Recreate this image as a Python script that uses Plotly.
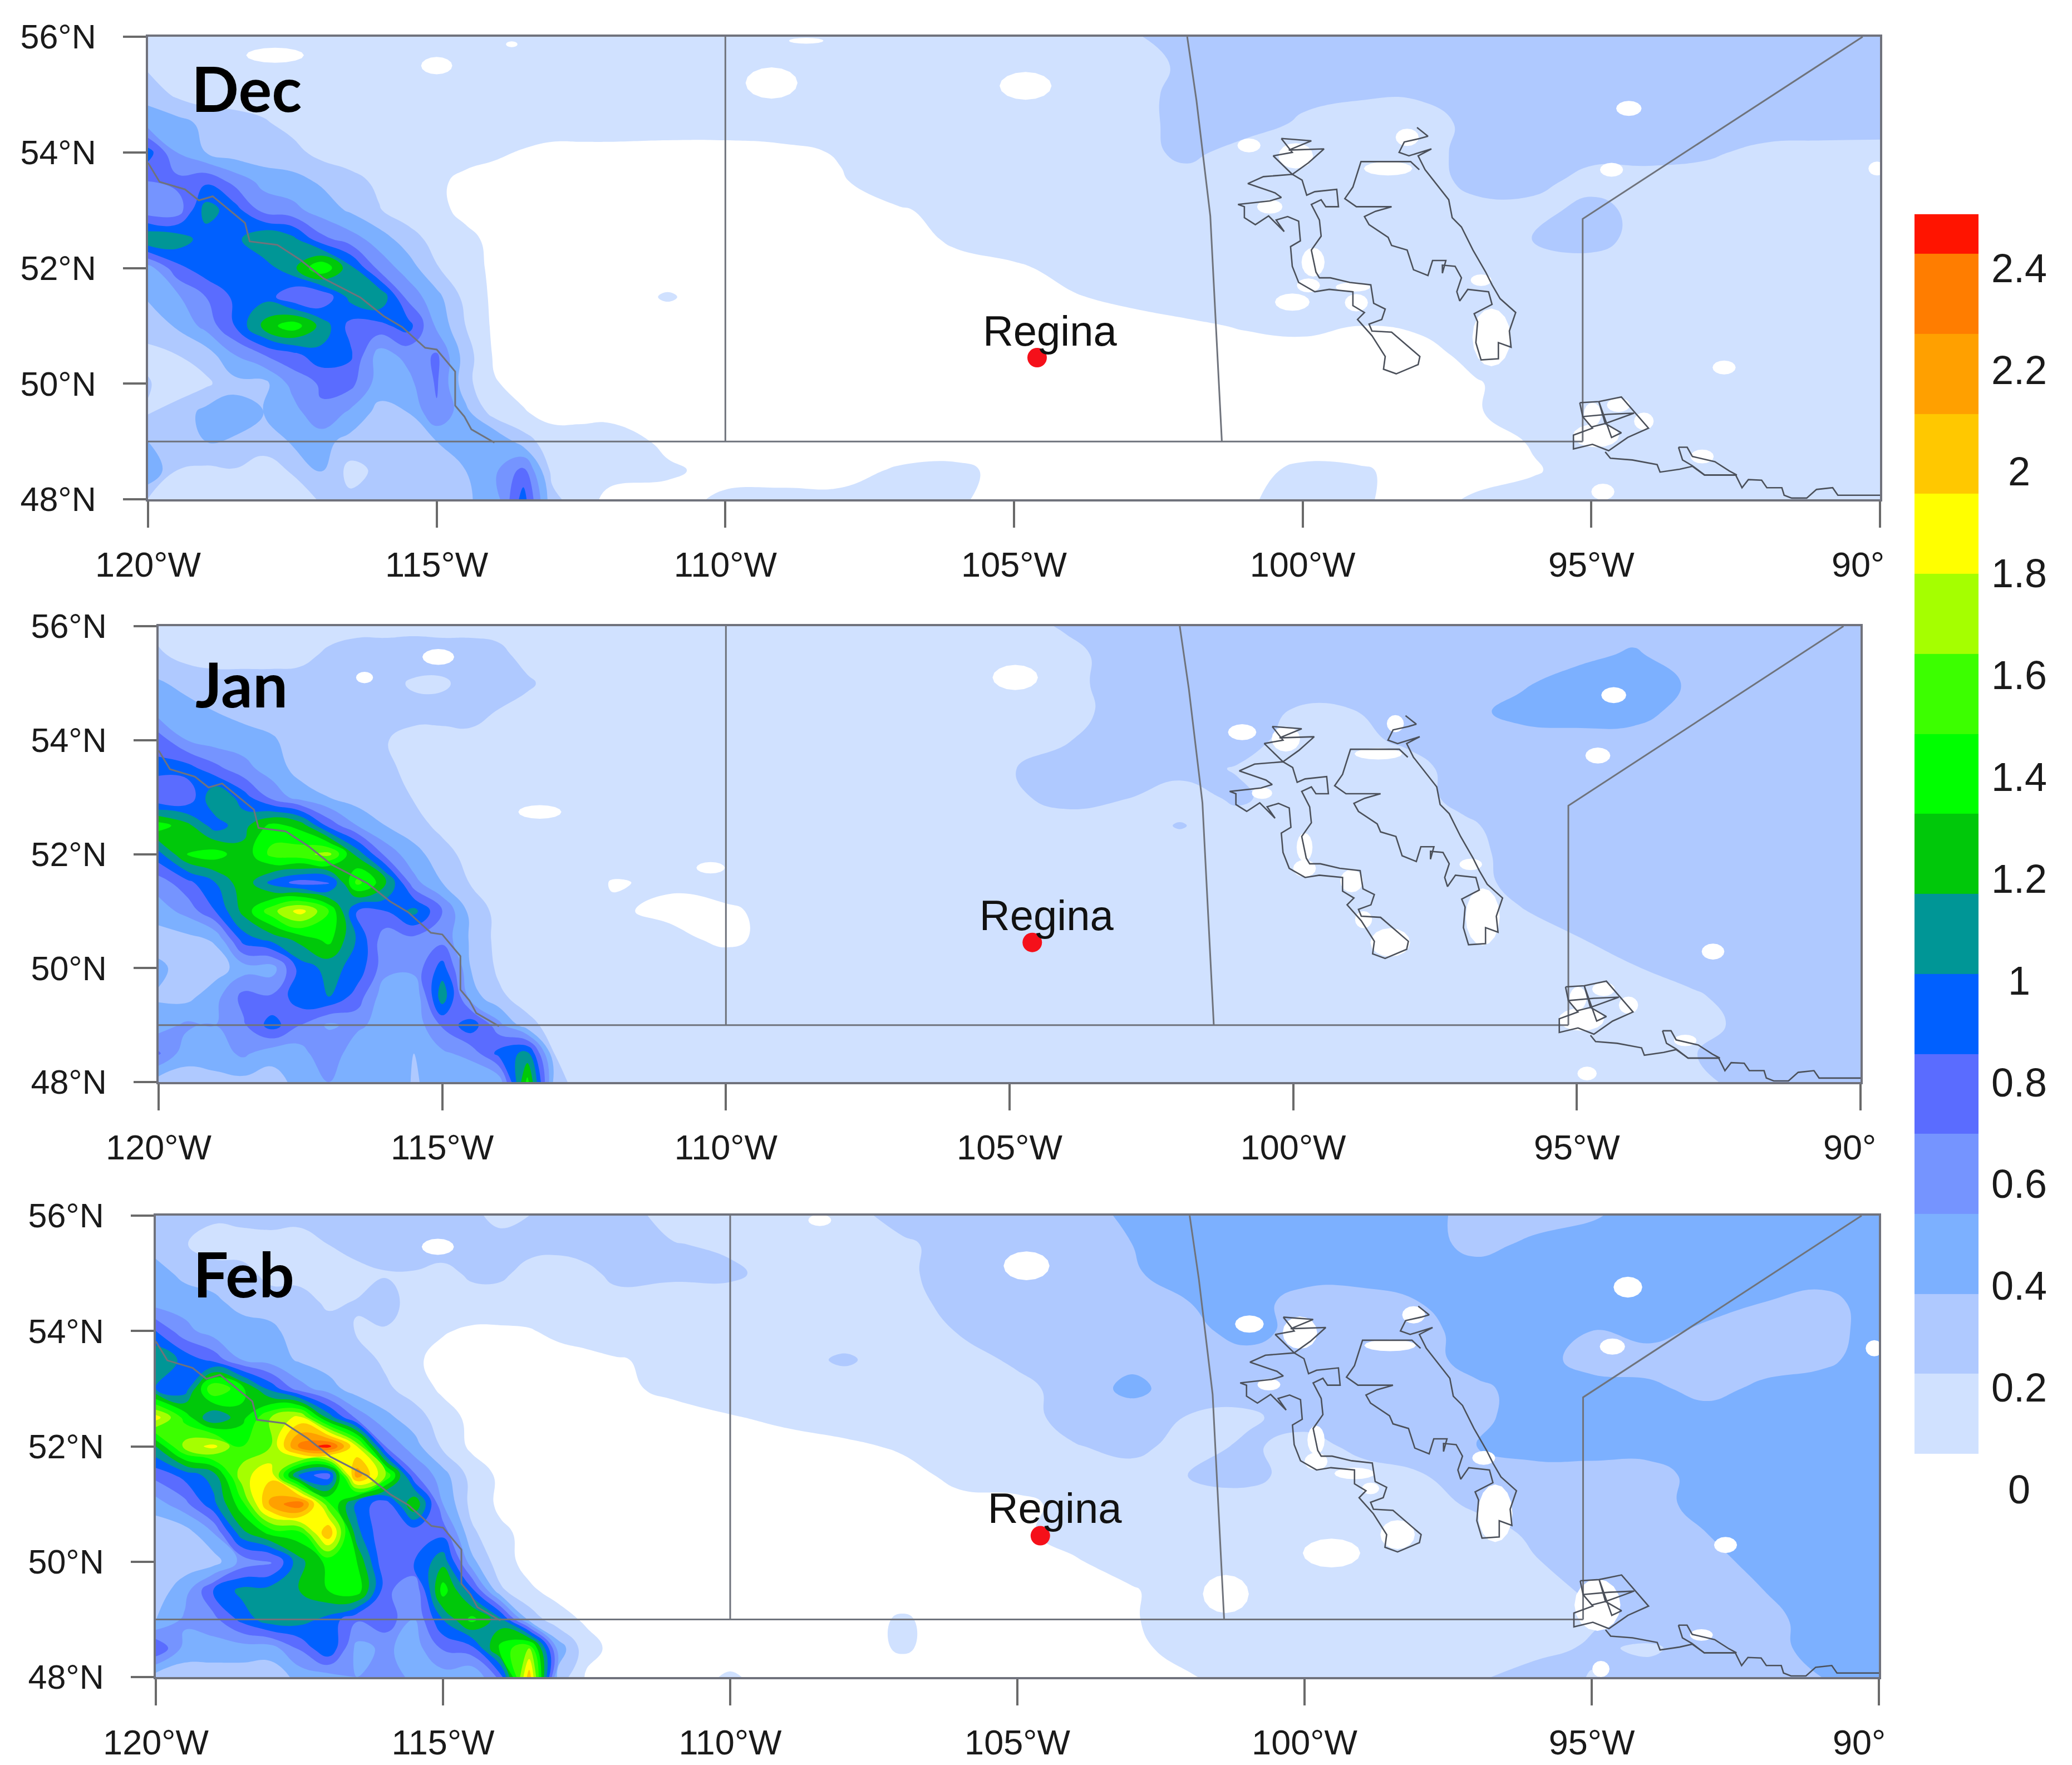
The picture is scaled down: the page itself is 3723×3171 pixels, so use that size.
import numpy as np
import plotly.graph_objects as go

W, H = 3723, 3171

LON = [-120 + 0.5 * i for i in range(17)] + list(range(-111, -89))
LAT_N_TO_S = [56 - 0.5 * i for i in range(17)]

# precipitation, in hundredths; rows run from 56N down to 48N
# _W: 120W to 112W every half degree, _E: 111W to 90W every degree
DEC_W = [
 [9,8,7,7,7,7,7,7,7,7,7,7,7,7,7,7,7],
 [12,7,7,7,7,7,7,7,7,7,7,7,7,7,7,7,7],
 [25,12,7,7,7,7,7,7,7,7,7,7,7,7,7,7,7],
 [38,36,26,22,17,10,8,7,7,7,7,7,7,7,7,7,7],
 [82,45,30,22,20,20,10,7,7,7,7,6,2,-1,-4,-4,-4],
 [60,65,72,55,40,35,28,20,12,7,3,-4,-5,-5,-5,-5,-5],
 [50,50,97,82,55,50,38,28,16,7,3,-3,-5,-5,-5,-5,-5],
 [105,100,82,85,105,95,65,52,38,22,9,3,-3,-5,-5,-5,-5],
 [38,70,84,85,82,100,135,95,55,38,16,6,-3,-5,-5,-5,-5],
 [32,42,60,78,85,62,60,95,105,55,35,10,-3,-5,-5,-5,-5],
 [20,32,50,75,110,130,100,70,70,82,42,15,-3,-5,-5,-5,-5],
 [12,15,22,45,60,70,85,78,38,50,62,22,-2,-5,-5,-5,-5],
 [16,8,12,25,25,50,62,65,38,40,62,20,1,-4,-5,-5,-5],
 [14,20,35,38,30,38,58,42,25,30,58,35,8,1,-4,-4,-4],
 [30,25,30,28,20,32,35,25,30,20,30,40,45,22,6,6,7],
 [45,15,12,14,10,16,32,10,18,22,25,30,42,65,10,6,4],
 [14,10,8,8,8,10,16,18,25,20,20,28,36,82,20,5,-3],
]
DEC_E = [
 [7,7,7,7,7,7,7,7,12,25,25,25,25,25,25,25,25,25,25,25,25,25],
 [7,7,7,7,7,7,7,7,8,18,24,25,25,25,25,25,25,25,25,25,25,25],
 [7,7,7,7,7,7,7,7,7,22,24,20,17,17,20,25,25,25,25,25,25,25],
 [7,7,7,7,7,7,7,7,7,22,24,12,7,7,20,25,25,25,25,25,25,25],
 [-5,-5,-3,1,7,7,7,7,7,20,7,7,7,7,22,25,22,22,18,10,8,7],
 [-5,-5,-5,-1,6,7,7,7,7,7,7,7,7,7,20,22,7,7,7,7,7,7],
 [-5,-5,-5,-5,-1,3,7,7,7,7,7,7,7,7,10,8,22,7,7,7,7,7],
 [-5,-5,-5,-5,-5,2,7,7,7,7,7,7,7,7,7,16,22,7,7,7,7,7],
 [-5,-3,-5,-5,-5,-4,-2,4,7,7,7,7,7,7,7,7,7,7,7,7,7,7],
 [1,-5,-5,-5,-5,-5,-5,-1,3,6,7,7,7,7,7,7,7,7,7,7,7,7],
 [-5,-5,-5,-5,-5,-5,-5,-5,-5,-2,1,3,0,2,7,7,7,7,7,7,7,7],
 [-5,-5,-5,-5,-5,-5,-5,-5,-5,-5,-5,-5,-5,-5,4,7,7,7,7,7,7,7],
 [-5,-5,-5,-5,-5,-5,-5,-5,-5,-5,-5,-5,-5,-5,-1,6,7,7,7,7,7,7],
 [-5,-5,-5,-5,-5,-5,-5,-5,-5,-5,-5,-5,-5,-5,-1,6,3,3,7,7,7,7],
 [-3,-5,-5,-5,-5,-5,-5,-5,-5,-5,-5,-5,-5,-5,-5,1,2,4,7,7,7,7],
 [2,-4,-3,-3,1,2,-3,-5,-5,-5,-3,2,1,-3,-3,-1,5,7,7,7,7,7],
 [-4,2,2,2,2,1,-3,-4,-4,-4,-1,3,1,-3,1,4,6,7,7,7,7,7],
]
JAN_W = [
 [10,8,8,8,8,8,8,8,8,8,8,8,8,8,8,8,8],
 [17,10,8,8,8,10,18,25,25,28,25,25,20,8,8,8,8],
 [32,25,22,22,22,22,22,22,22,12,12,22,22,18,8,8,8],
 [38,36,30,24,22,22,22,22,22,22,22,24,14,8,8,8,8],
 [68,45,38,38,32,22,22,22,16,8,8,8,8,8,8,8,8],
 [80,82,65,50,38,24,22,22,20,8,8,8,8,8,8,8,8],
 [60,62,105,82,55,38,30,22,22,14,8,8,8,8,8,8,8],
 [128,110,82,100,125,115,70,45,30,22,10,8,8,8,8,8,8],
 [85,120,127,110,140,145,155,100,55,35,22,8,8,8,8,8,8],
 [52,70,90,115,85,68,70,140,110,50,30,14,8,8,8,6,-1],
 [38,50,75,110,145,172,135,72,75,95,60,25,10,8,8,6,2],
 [22,25,32,82,95,110,125,88,50,55,55,28,10,8,8,8,8],
 [34,22,22,38,38,82,95,85,50,50,82,30,12,8,8,8,8],
 [28,25,40,65,62,85,90,68,35,30,100,38,18,8,8,8,8],
 [38,48,45,58,82,60,42,50,35,35,62,85,50,20,8,8,8],
 [62,35,38,48,35,38,60,30,40,30,42,50,80,95,14,8,8],
 [22,24,25,25,24,35,45,30,45,28,38,30,35,125,20,8,8],
]
JAN_E = [
 [8,8,8,8,8,8,8,17,24,24,24,24,24,24,24,24,24,24,24,24,24,24],
 [8,8,8,8,8,8,8,10,22,22,22,22,22,22,22,22,26,32,22,22,26,22],
 [8,8,8,8,8,8,8,10,22,22,22,22,22,22,22,28,36,40,28,22,22,22],
 [8,8,8,8,8,8,8,8,22,22,22,14,14,22,26,34,38,38,22,22,22,22],
 [8,8,8,8,8,8,8,14,22,22,22,10,10,18,22,25,24,22,22,22,22,22],
 [8,8,8,8,8,8,14,22,22,20,14,8,8,8,22,22,22,22,22,22,22,22],
 [8,8,8,8,8,8,12,20,16,8,18,8,8,8,20,22,22,22,22,22,22,22],
 [8,8,8,8,8,8,8,8,8,16,8,8,8,8,12,22,22,22,22,22,22,22],
 [8,8,8,8,8,8,8,8,8,8,8,8,8,8,8,22,22,22,22,22,22,22],
 [2,8,8,8,8,8,8,8,8,8,8,8,8,8,8,20,22,22,22,22,22,22],
 [-3,-3,6,8,8,8,8,8,8,8,8,8,8,8,8,14,22,22,22,22,22,22],
 [4,-3,5,8,8,8,8,8,8,8,8,8,8,8,8,10,14,22,22,22,22,22],
 [8,8,8,8,8,8,8,8,8,8,8,8,8,8,8,8,8,14,22,22,22,22],
 [8,8,8,8,8,8,8,8,8,8,8,8,8,8,8,8,8,8,12,22,22,22],
 [8,8,8,8,8,8,8,8,8,8,8,8,8,8,8,8,8,8,10,18,22,22],
 [8,8,8,8,8,8,8,8,8,8,8,8,8,8,8,8,8,8,14,22,22,22],
 [8,8,8,8,8,8,8,8,8,8,8,8,8,8,8,8,8,8,10,20,22,22],
]
FEB_W = [
 [20,20,18,20,22,20,24,24,24,24,24,20,8,15,24,24,24],
 [24,16,8,8,8,8,15,24,24,24,24,24,24,20,18,24,24],
 [36,26,22,20,10,9,8,8,14,14,10,18,18,10,10,10,20],
 [38,38,34,24,22,22,12,16,20,10,8,8,8,8,8,8,8],
 [75,50,38,38,34,22,22,14,14,8,1,-2,-2,-1,3,5,8],
 [105,85,70,45,38,28,22,22,12,2,-4,-5,-5,-5,-5,-3,-1],
 [90,80,150,125,85,52,37,22,18,8,-3,-5,-5,-5,-5,-5,-3],
 [172,130,90,115,150,170,100,55,34,22,7,-4,-5,-5,-5,-5,-5],
 [105,155,170,135,150,215,232,165,60,36,12,-3,-5,-5,-5,-5,-5],
 [65,80,97,160,175,85,65,205,150,62,36,9,-3,-5,-5,-5,-5],
 [38,55,85,130,200,222,140,85,65,120,45,10,-3,-5,-5,-5,-5],
 [18,22,45,100,125,130,195,95,60,65,70,18,3,-4,-5,-5,-5],
 [30,22,22,50,55,100,125,120,60,75,100,35,5,-4,-5,-5,-5],
 [22,38,75,95,97,105,120,130,65,45,128,80,18,2,-4,-4,-4],
 [28,48,55,80,100,97,85,62,70,45,90,125,95,25,5,-2,-4],
 [75,40,38,38,38,62,90,40,48,38,62,70,125,150,40,5,-4],
 [22,20,22,22,20,35,38,45,60,38,38,30,65,190,25,-2,-4],
]
FEB_E = [
 [8,8,8,8,22,22,22,22,34,37,38,38,38,38,22,22,28,38,38,38,38,38],
 [16,12,8,8,12,22,22,24,30,38,38,38,38,38,24,34,38,38,38,38,38,38],
 [18,18,8,8,12,22,24,24,28,38,38,38,38,38,38,38,38,38,38,38,38,38],
 [8,8,8,8,8,22,22,22,22,30,38,22,22,30,38,38,38,38,38,30,24,38],
 [8,8,8,8,8,16,22,22,22,24,38,22,22,24,38,38,30,36,26,22,22,38],
 [3,8,10,17,8,8,18,22,26,22,22,26,22,22,38,38,22,22,22,22,26,38],
 [3,8,8,8,8,8,10,22,34,22,22,22,22,22,26,38,38,34,24,34,38,36],
 [-5,-1,3,8,8,8,8,22,22,14,12,22,22,22,26,38,38,38,38,38,38,38],
 [-5,-5,-5,-3,2,8,8,14,20,8,18,8,20,22,30,38,38,38,38,38,38,38],
 [-5,-5,-5,-5,-5,4,8,8,8,16,20,8,8,14,22,22,22,22,38,38,38,38],
 [-4,-4,-4,-4,-4,-4,-4,5,8,8,8,8,8,8,18,22,22,22,38,38,38,38],
 [-4,-4,-4,-4,-4,-4,-2,4,8,8,8,8,8,8,8,18,22,22,30,38,38,38],
 [-4,-4,-4,-4,-4,-4,-4,-1,5,8,8,8,8,8,8,14,22,22,22,38,38,38],
 [-4,-4,-4,-4,-4,-4,-4,-4,-1,6,8,8,8,8,8,8,18,22,22,30,38,38],
 [-4,-4,-4,-4,1,-4,-4,-4,-1,6,8,8,8,8,8,8,12,30,22,24,38,38],
 [-4,-4,-4,-4,1,-4,-4,-4,-3,5,8,8,8,8,8,8,18,12,24,22,38,38],
 [-4,1,-4,-4,-4,-4,-4,-4,-4,-1,6,8,8,8,12,24,14,22,24,24,30,35],
]

# snow-free patches: lon, lat, half-width, half-height in degrees
DEC_PATCHES = [(-117.8,55.68,.5,.13),(-115,55.5,.27,.15),(-113.7,55.87,.1,.05),(-109.2,55.2,.45,.27),
 (-104.8,55.15,.45,.24),(-108.6,55.93,.3,.05),(-94.35,54.76,.22,.13),(-94.65,53.7,.2,.12),
 (-100.93,54.12,.2,.12),(-100.12,53.94,.3,.22),(-98.52,53.72,.42,.12),(-98.19,54.26,.2,.15),
 (-100.57,53.06,.22,.12),(-99.82,52.1,.2,.25),(-99.9,51.7,.2,.12),(-99.13,51.67,.3,.08),
 (-99.07,51.4,.2,.15),(-96.91,51.79,.18,.1),(-96.73,50.8,.33,.5),(-100.18,51.41,.3,.15),
 (-92.7,50.28,.2,.12),(-90.05,53.72,.15,.12),(-94.8,48.13,.2,.14),(-94.53,49.63,.2,.12),
 (-94.92,49.1,.4,.2),(-94.09,49.35,.17,.15),(-94.98,49.47,.15,.2),(-93.08,48.74,.2,.12)]
JAN_PATCHES = [(-115.07,55.46,.28,.14),(-116.37,55.1,.15,.1),(-113.28,52.74,.38,.12),(-110.27,51.76,.25,.1),
 (-104.9,55.1,.4,.22),(-100.9,54.14,.25,.14),(-94.35,54.79,.22,.14),(-94.63,53.73,.22,.14),
 (-92.6,50.29,.2,.14),(-94.82,48.15,.17,.12),(-98.5,53.76,.42,.1),(-98.2,54.29,.15,.15),
 (-100.13,54.02,.25,.22),(-100.55,53.07,.18,.1),(-99.8,52.12,.14,.25),(-99.8,51.75,.2,.15),
 (-98.97,51.53,.2,.2),(-98.76,50.85,.15,.15),(-98.29,50.45,.35,.25),(-96.66,50.9,.3,.5),
 (-96.87,51.82,.2,.1),(-94.53,49.63,.2,.12),(-94.92,49.1,.4,.2),(-94.09,49.35,.17,.15),
 (-94.98,49.47,.15,.2),(-93.09,48.73,.2,.1)]
FEB_PATCHES = [(-115.09,55.46,.28,.14),(-104.84,55.13,.4,.25),(-108.44,55.92,.2,.1),(-100.96,54.12,.25,.15),
 (-100.08,53.97,.3,.28),(-98.51,53.75,.45,.1),(-98.1,54.28,.2,.15),(-100.62,53.07,.2,.1),
 (-99.8,52.11,.15,.25),(-99.8,51.74,.2,.15),(-99.13,51.53,.35,.1),(-98.85,51.27,.15,.1),
 (-98.38,50.47,.3,.25),(-96.68,50.84,.3,.5),(-96.88,51.8,.2,.12),(-94.37,54.76,.25,.18),
 (-94.64,53.73,.22,.14),(-90.08,53.7,.15,.14),(-92.67,50.29,.2,.14),(-94.84,48.14,.15,.14),
 (-99.53,50.15,.5,.25),(-101.37,49.44,.4,.33),(-94.9,49.25,.4,.45),(-93.09,48.73,.2,.1)]

PROVINCE_LINES = [
 [(-120,49),(-95.15,49)],
 [(-110,49),(-110,56)],
 [(-102,56),(-101.84,54.9),(-101.6,52.9),(-101.4,49)],
 [(-95.15,49),(-95.15,52.85),(-90.3,56)],
 [(-120,53.82),(-119.8,53.49),(-119.36,53.36),(-119.12,53.17),(-118.88,53.24),(-118.64,53.04),(-118.32,52.78),
  (-118.24,52.46),(-117.76,52.4),(-117.36,52.14),(-116.96,51.82),(-116.32,51.49),(-115.92,51.17),(-115.6,50.98),
  (-115.2,50.62),(-115,50.59),(-114.68,50.21),(-114.68,49.62),(-114.52,49.43),(-114.4,49.21),(-114,48.98)],
]
WATER_LINES = [
 [(-98.02,54.43),(-97.83,54.28),(-97.97,54.24),(-98.24,54.18),(-98.33,54.0),(-98.16,53.94),(-97.77,54.06),(-98.0,53.94),
  (-97.88,53.7),(-97.47,53.18),(-97.41,52.87),(-97.25,52.71),(-97.05,52.31),(-96.83,51.93),(-96.72,51.71),(-96.58,51.47),
  (-96.31,51.23),(-96.42,50.91),(-96.39,50.63),(-96.61,50.71),(-96.61,50.43),(-96.91,50.41),(-97.0,50.71),(-96.97,51.07),
  (-97.03,51.21),(-96.72,51.37),(-96.78,51.59),(-97.14,51.63),(-97.28,51.43),(-97.33,51.59),(-97.25,51.83),(-97.36,52.03),
  (-97.58,52.05),(-97.58,51.91),(-97.52,52.13),(-97.75,52.13),(-97.83,51.87),(-98.08,51.97),(-98.19,52.31),(-98.46,52.39),
  (-98.52,52.53),(-98.85,52.75),(-98.93,52.89),(-98.74,52.98),(-98.46,53.06),(-99.07,53.06),(-99.27,53.2),(-99.13,53.4),
  (-98.99,53.84),(-98.13,53.84),(-97.98,53.7)],
 [(-100.37,54.24),(-99.85,54.2),(-100.24,54.04),(-99.63,54.06),(-99.9,53.82),(-100.18,53.62),(-100.51,53.94),(-100.18,54.0),(-100.37,54.24)],
 [(-100.18,53.62),(-100.01,53.52),(-99.93,53.26),(-99.79,53.32),(-99.41,53.36),(-99.38,53.06),(-99.6,53.06),(-99.68,53.18),
  (-99.85,53.1),(-99.71,52.83),(-99.68,52.55),(-99.85,52.31),(-99.77,51.93),(-99.71,51.83),(-99.52,51.83),(-99.18,51.75),
  (-98.82,51.71),(-98.77,51.39),(-98.57,51.29),(-98.63,51.11),(-98.85,51.03),(-98.8,50.91),(-98.46,50.89),(-97.97,50.47),
  (-98.0,50.33),(-98.38,50.17),(-98.6,50.25),(-98.57,50.47),(-98.8,50.83),(-99.05,51.11),(-98.93,51.23),(-99.13,51.35),
  (-99.13,51.59),(-99.54,51.63),(-99.79,51.59),(-100.07,51.75),(-100.18,52.03),(-100.21,52.37),(-100.04,52.47),(-100.07,52.81),
  (-100.26,52.89),(-100.46,52.83),(-100.32,52.63),(-100.59,52.9),(-100.82,52.75),(-101.01,52.87),(-101.01,53.06),(-101.12,53.1),
  (-100.57,53.16),(-100.37,53.22),(-100.48,53.3),(-100.95,53.46),(-100.68,53.58),(-100.18,53.62)],
 [(-95.2,49.67),(-94.87,49.69),(-94.48,49.77),(-94.29,49.55),(-94.01,49.23),(-94.37,49.07),(-94.7,48.84),(-94.98,48.95),
  (-95.31,48.87),(-95.31,49.11),(-94.98,49.23),(-95.15,49.43),(-95.2,49.67)],
 [(-95.15,49.43),(-94.7,49.47),(-94.26,49.49),(-94.76,49.31),(-94.48,49.15),(-94.65,49.07),(-94.87,49.69),(-94.76,49.31),(-95.0,49.25)],
 [(-94.76,48.82),(-94.67,48.71),(-94.29,48.68),(-93.86,48.6),(-93.81,48.47),(-93.47,48.52),(-93.25,48.57),(-93.04,48.42),
  (-92.5,48.42),(-92.39,48.2),(-92.28,48.34),(-92.05,48.33),(-91.96,48.2),(-91.7,48.2),(-91.66,48.07),(-91.53,48.02),
  (-91.27,48.02),(-91.1,48.17),(-90.82,48.2),(-90.73,48.07),(-90,48.07)],
 [(-93.49,48.9),(-93.34,48.9),(-93.25,48.74),(-92.86,48.65),(-92.61,48.49),(-92.48,48.42),(-93.04,48.42),(-93.25,48.58),(-93.42,48.68),(-93.49,48.9)],
]

MONTHS = ["Dec", "Jan", "Feb"]
CITY = "Regina"
CITY_LON, CITY_LAT = -104.6, 50.45
X_TICKS = [-120, -115, -110, -105, -100, -95, -90]
X_LABELS = ["120°W", "115°W", "110°W", "105°W", "100°W", "95°W", ""]
Y_TICKS = [48, 50, 52, 54, 56]
Y_LABELS = ["48°N", "50°N", "52°N", "54°N", "56°N"]
CB_LABELS = ["0", "0.2", "0.4", "0.6", "0.8", "1", "1.2", "1.4", "1.6", "1.8", "2", "2.2", "2.4"]
CB_VALUES = [0, .2, .4, .6, .8, 1, 1.2, 1.4, 1.6, 1.8, 2, 2.2, 2.4]
COLORS = ["#d0e1ff", "#afc9ff", "#7cb0ff", "#7594ff", "#5a6cff", "#0060ff", "#009696", "#00c80a",
          "#00ff00", "#3cff00", "#a5ff00", "#ffff00", "#ffc800", "#ffa000", "#ff7d00", "#ff1400"]

# pixel frames of the three maps
FRAMES = [(266, 3378, 66, 897), (285, 3343, 1125, 1944), (280, 3376, 2184, 3013)]
RIGHT_LABEL = [3388, 3373, 3390]
TITLE_POS = [(-119.27, 55.12), (-119.37, 55.0), (-119.37, 55.0)]
CITY_LABEL_POS = [(-104.38, 50.84), (-104.35, 50.85), (-104.35, 50.86)]

step = 0.15
scale_cols = ["#ffffff"] + COLORS + [COLORS[-1]]
colorscale = [[k / 17, c] for k, c in enumerate(scale_cols)]


def ellipses(patches):
    xs, ys = [], []
    t = np.linspace(0, 2 * np.pi, 17)
    for lon, lat, hw, hh in patches:
        xs += list(lon + hw * np.cos(t)) + [None]
        ys += list(lat + hh * np.sin(t)) + [None]
    return xs, ys


def polylines(groups):
    xs, ys = [], []
    for g in groups:
        xs += [p[0] for p in g] + [None]
        ys += [p[1] for p in g] + [None]
    return xs, ys


fig = go.Figure()
layout = dict(width=W, height=H, margin=dict(l=0, r=0, t=0, b=0, pad=0, autoexpand=False),
              paper_bgcolor="white", plot_bgcolor="white",
              showlegend=False, font=dict(family="Liberation Sans", color="#1a1a1a"))
annotations = []
grids = [(DEC_W, DEC_E, DEC_PATCHES), (JAN_W, JAN_E, JAN_PATCHES), (FEB_W, FEB_E, FEB_PATCHES)]

for i, (gw, ge, patches) in enumerate(grids):
    n = "" if i == 0 else str(i + 1)
    xa, ya = "x" + n, "y" + n
    x0, x1, y0, y1 = FRAMES[i]
    z = (np.hstack([np.array(gw), np.array(ge)]) / 100.0)[::-1]
    fig.add_trace(go.Contour(x=LON, y=LAT_N_TO_S[::-1], z=z, xaxis=xa, yaxis=ya, autocontour=False,
                             contours=dict(start=0, end=2.4, size=step, coloring="fill", showlines=False),
                             line=dict(width=0, smoothing=1.3), colorscale=colorscale, zauto=False,
                             zmin=-0.075, zmax=2.475, showscale=False, hoverinfo="skip"))
    ex, ey = ellipses(patches)
    fig.add_trace(go.Scatter(x=ex, y=ey, xaxis=xa, yaxis=ya, mode="lines", fill="toself", fillcolor="white",
                             line=dict(width=0, color="white"), hoverinfo="skip"))
    px, py = polylines(PROVINCE_LINES)
    fig.add_trace(go.Scatter(x=px, y=py, xaxis=xa, yaxis=ya, mode="lines",
                             line=dict(color="#6f737c", width=3), hoverinfo="skip"))
    wx, wy = polylines(WATER_LINES)
    fig.add_trace(go.Scatter(x=wx, y=wy, xaxis=xa, yaxis=ya, mode="lines",
                             line=dict(color="#4b505a", width=2.6), hoverinfo="skip"))
    fig.add_trace(go.Scatter(x=[CITY_LON], y=[CITY_LAT], xaxis=xa, yaxis=ya, mode="markers",
                             marker=dict(color="#f5101a", size=35), hoverinfo="skip"))
    fig.add_trace(go.Scatter(x=[CITY_LABEL_POS[i][0]], y=[CITY_LABEL_POS[i][1]], xaxis=xa, yaxis=ya, mode="text",
                             text=[CITY], textposition="middle center",
                             textfont=dict(family="Liberation Sans", size=76, color="#111"), hoverinfo="skip"))
    axis_common = dict(showgrid=False, zeroline=False, showline=True, mirror=True, linecolor="#70727c", linewidth=4,
                       ticks="outside", tickcolor="#6a6a6a", tickwidth=4)
    layout["xaxis" + n] = dict(domain=[x0 / W, x1 / W], range=[-120, -90], anchor=ya, tickmode="array", tickvals=X_TICKS,
                               ticktext=X_LABELS, ticklen=47, ticklabelstandoff=12, tickfont=dict(size=63), **axis_common)
    layout["yaxis" + n] = dict(domain=[1 - y1 / H, 1 - y0 / H], range=[48, 56], anchor=xa, tickmode="array", tickvals=Y_TICKS,
                               ticktext=Y_LABELS, ticklen=41, ticklabelstandoff=36, tickfont=dict(size=61), **axis_common)
    annotations.append(dict(xref=xa, yref=ya, x=TITLE_POS[i][0], y=TITLE_POS[i][1], text="<b>%s</b>" % MONTHS[i],
                            showarrow=False, xanchor="left", yanchor="middle",
                            font=dict(family="Lato", size=112, color="black")))
    annotations.append(dict(xref="paper", yref="paper", x=RIGHT_LABEL[i] / W, y=1 - (y1 + 117) / H, text="90°",
                            showarrow=False, xanchor="right", yanchor="middle", font=dict(size=63)))

# colour bar
cb_edges = [0.07 + 0.1572 * k for k in range(16)] + [2.506]
fig.add_trace(go.Heatmap(x=[0, 1], y=cb_edges, z=[[k] for k in range(16)], xaxis="x4", yaxis="y4", zmin=0, zmax=15,
                         colorscale=[[k / 15, c] for k, c in enumerate(COLORS)], showscale=False, hoverinfo="skip"))
layout["xaxis4"] = dict(domain=[3440 / W, 3555 / W], range=[0, 1], anchor="y4", visible=False)
layout["yaxis4"] = dict(domain=[1 - 2707 / H, 1 - 383 / H], range=[-0.034, 2.508], anchor="x4", visible=False)
for v, t in zip(CB_VALUES, CB_LABELS):
    annotations.append(dict(xref="paper", yref="y4", x=3628 / W, y=v, text=t, showarrow=False,
                            xanchor="center", yanchor="middle", font=dict(size=72)))
layout["annotations"] = annotations
fig.update_layout(**layout)
fig.write_html("out.html", config=dict(displayModeBar=False), post_script="document.body.style.margin='0';")
